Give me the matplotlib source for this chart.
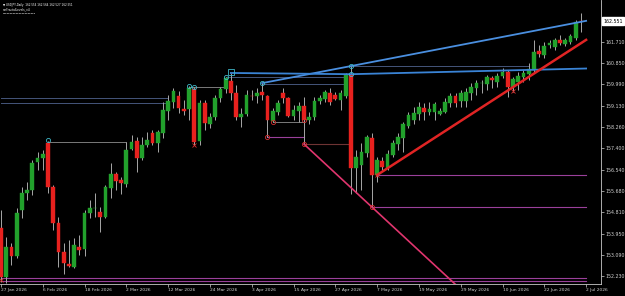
import matplotlib
matplotlib.use("Agg")
import matplotlib.pyplot as plt
import numpy as np

# USDJPY daily candles from 27 Jan 2026
opens = [154.17, 152.19, 153.40, 153.04, 154.90, 155.59, 155.71, 156.85, 157.01, 157.61,
         155.83, 154.38, 153.20, 152.72, 152.59, 153.40, 153.32, 154.78, 154.98, 154.82,
         154.62, 155.79, 156.36, 156.12, 155.95, 157.37, 157.70, 157.01, 157.53, 158.02,
         157.61, 158.02, 158.91, 159.27, 159.52, 158.99, 158.99, 159.80, 157.70, 159.23,
         158.38, 158.67, 159.44, 159.80, 160.12, 159.64, 158.67, 158.79, 159.52, 159.52,
         159.68, 159.52, 158.51, 158.87, 159.64, 159.44, 158.71, 158.91, 159.11, 158.55,
         158.67, 159.32, 159.40, 159.64, 159.56, 159.36, 159.52, 160.37, 156.60, 156.72,
         157.21, 157.82, 156.32, 156.89, 156.60, 157.13, 157.57, 157.82, 158.30, 158.55,
         158.79, 159.03, 158.87, 158.87, 158.79, 158.87, 159.23, 159.52, 159.32, 159.32,
         159.64, 159.84, 160.04, 160.00, 160.25, 160.08, 160.33, 160.49, 159.88, 160.08,
         160.29, 160.41, 160.57, 161.34, 161.18, 161.58, 161.50, 161.78, 161.62, 161.70,
         161.87, 162.554]
highs = [154.90, 153.81, 153.57, 154.98, 155.83, 156.04, 156.93, 157.25, 157.33, 157.70,
         155.91, 154.62, 153.57, 153.69, 153.77, 153.89, 154.90, 155.31, 155.59, 155.02,
         155.91, 156.80, 156.44, 156.24, 157.66, 157.94, 157.86, 157.86, 158.06, 158.14,
         158.14, 159.27, 159.56, 159.84, 159.72, 159.36, 159.92, 159.88, 159.36, 159.36,
         158.83, 159.56, 159.88, 160.29, 160.45, 159.96, 159.03, 159.76, 159.76, 159.84,
         160.04, 159.56, 159.03, 159.36, 159.84, 159.48, 159.15, 159.27, 159.48, 158.87,
         159.48, 159.56, 159.76, 159.84, 159.68, 159.76, 160.45, 160.73, 157.33, 157.61,
         157.94, 158.02, 157.05, 157.05, 157.33, 157.74, 158.02, 158.47, 158.87, 159.07,
         159.27, 159.23, 159.27, 159.27, 159.03, 159.44, 159.64, 159.64, 159.76, 159.84,
         160.04, 160.17, 160.17, 160.37, 160.33, 160.45, 160.65, 160.57, 160.29, 160.49,
         160.57, 160.85, 161.78, 161.58, 161.70, 161.78, 161.87, 161.99, 161.87, 162.03,
         162.59, 162.88]
lows = [151.99, 151.95, 152.68, 152.96, 154.58, 155.31, 155.51, 156.52, 156.52, 155.59,
        154.09, 152.59, 152.31, 152.59, 152.55, 153.08, 153.04, 154.58, 154.62, 154.01,
        154.58, 155.39, 155.71, 155.55, 155.83, 157.33, 156.44, 156.93, 157.45, 157.53,
        157.25, 157.82, 158.55, 159.03, 158.83, 158.75, 158.55, 157.53, 157.53, 158.14,
        158.22, 158.55, 159.27, 159.64, 159.36, 158.55, 158.26, 158.71, 159.36, 159.23,
        159.36, 157.86, 158.47, 158.75, 159.23, 158.67, 158.55, 158.47, 157.57, 158.38,
        158.55, 159.19, 159.27, 159.15, 159.36, 158.95, 159.44, 155.55, 155.59, 155.71,
        157.05, 155.02, 156.04, 156.52, 156.52, 157.05, 157.33, 157.25, 158.22, 158.38,
        158.55, 158.55, 158.75, 158.55, 158.75, 158.83, 159.07, 159.07, 159.07, 159.07,
        159.36, 159.56, 159.64, 159.76, 159.84, 159.88, 160.25, 159.48, 159.68, 159.76,
        160.08, 160.17, 160.49, 161.10, 161.06, 161.46, 161.38, 161.58, 161.54, 161.62,
        161.78, 162.11]
closes = [152.19, 153.40, 153.04, 154.78, 155.59, 155.71, 156.80, 157.01, 157.17, 155.83,
          154.38, 153.20, 152.76, 152.63, 153.49, 153.28, 154.78, 154.98, 154.99, 154.62,
          155.83, 156.36, 156.08, 155.99, 157.33, 157.66, 157.01, 157.53, 157.74, 157.61,
          158.06, 158.95, 159.32, 159.72, 159.03, 158.91, 159.84, 157.66, 159.23, 158.42,
          158.67, 159.44, 159.80, 160.25, 159.64, 158.67, 158.79, 159.56, 159.50, 159.64,
          159.56, 158.55, 158.91, 159.23, 159.44, 158.71, 158.95, 159.11, 158.55, 158.67,
          159.32, 159.44, 159.68, 159.27, 159.40, 159.64, 160.37, 156.60, 157.05, 157.25,
          157.86, 156.32, 156.93, 156.64, 157.17, 157.61, 157.86, 158.38, 158.75, 158.83,
          159.07, 158.87, 158.99, 159.19, 158.91, 159.27, 159.52, 159.23, 159.64, 159.68,
          159.88, 160.04, 160.05, 160.29, 160.17, 160.33, 160.49, 159.88, 160.21, 160.33,
          160.45, 160.61, 161.30, 161.22, 161.54, 161.66, 161.78, 161.66, 161.78, 161.95,
          162.51, 162.551]

price_ticks = [152.230, 153.090, 153.950, 154.810, 155.680, 156.540, 157.400,
               158.260, 159.130, 159.990, 160.850, 161.710]
date_labels = ["27 Jan 2026", "6 Feb 2026", "18 Feb 2026", "2 Mar 2026", "12 Mar 2026",
               "24 Mar 2026", "3 Apr 2026", "15 Apr 2026", "27 Apr 2026", "7 May 2026",
               "19 May 2026", "29 May 2026", "10 Jun 2026", "22 Jun 2026", "2 Jul 2026"]
last_price = 162.551

# fractal levels: from bar, to bar, price
res_levels = [(0, 32, 159.44), (0, 32, 159.23), (9, 24, 157.66), (36, 43, 159.87),
              (43, 66, 160.27), (50, 66, 160.02), (67, 101, 160.73), (52, 58, 158.47)]
sup_levels = [(51, 58, 157.86), (58, 67, 157.57), (72, 112, 156.32), (71, 112, 155.02),
              (0, 112, 152.15), (0, 112, 152.03)]
# trend lines: (bar, price) anchors
blue_up = [(50, 160.04), (67, 160.73), (112, 162.56)]
blue_flat = [(44, 160.45), (67, 160.40), (112, 160.63)]
red_trend = [(72, 156.32), (112, 161.79)]
pink_trend = [(58, 157.57), (71, 155.02), (90, 151.30)]
high_marks = [(9, 157.72), (36, 159.92), (37, 159.88), (43, 160.29), (50, 160.04),
              (67, 160.73), (67, 160.39)]
low_marks = [(51, 157.86), (52, 158.47), (58, 158.55), (58, 157.57), (71, 155.02)]
low_crosses = [(37, 157.55), (72, 156.32), (98, 159.70), (0, 152.08)]

bg = "black"
fig = plt.figure(figsize=(6.25, 2.96), dpi=100, facecolor=bg)
ax = fig.add_axes([0.0, 12 / 296, 601 / 625, 284 / 296], facecolor=bg)

o = np.array(opens); h = np.array(highs); l = np.array(lows); c = np.array(closes)
idx = np.arange(len(o))

# levels
for a, b, p in res_levels:
    col = "#7a7a7a" if a in (9, 36, 52) else "#45557a"
    ax.plot([a, b], [p, p], color=col, lw=0.7, zorder=1)
for a, b, p in sup_levels:
    col = "#6e3434" if a == 58 else "#9a409a"
    ax.plot([a, b], [p, p], color=col, lw=0.8, zorder=1)

# candles
ax.vlines(idx, l, h, color="#a8a8a8", lw=0.7, zorder=2)
up = c >= o
body_col = np.where(up, "#22a12c", "#e8211e")
bottom = np.minimum(o, c)
height = np.maximum(np.abs(c - o), 0.02)
ax.bar(idx, height, bottom=bottom, width=0.72, color=body_col, edgecolor=body_col,
       lw=0.3, zorder=3)

# trend lines
def line(pts, **kw):
    xs, ys = zip(*pts)
    ax.plot(xs, ys, **kw)

line(blue_up, color="#4a8fe0", lw=1.3, zorder=4)
line(blue_flat, color="#3a84d6", lw=1.3, zorder=4)
line(red_trend, color="#e02424", lw=1.8, zorder=4)
line(pink_trend, color="#e0356e", lw=1.2, zorder=4)

for b, p in high_marks:
    ax.plot(b, p, "o", ms=3, mfc="none", mec="#3fb8c8", mew=0.6, zorder=5)
ax.plot(44, 160.50, "s", ms=4, mfc="none", mec="#3fb8c8", mew=0.6, zorder=5)
for b, p in low_marks:
    ax.plot(b, p, "o", ms=3, mfc="none", mec="#d83030", mew=0.6, zorder=5)
for b, p in low_crosses:
    ax.plot(b, p, "x", ms=3, mec="#e03030", mew=0.6, zorder=5)

ax.set_xlim(-0.19, 114.85)
ax.set_ylim(151.906, 163.404)

for s in ("left", "top"):
    ax.spines[s].set_visible(False)
for s in ("right", "bottom"):
    ax.spines[s].set_color("#c8c8c8")
    ax.spines[s].set_linewidth(0.6)

ax.yaxis.tick_right()
ax.set_yticks(price_ticks)
ax.set_yticklabels(["%.3f" % v for v in price_ticks])
ax.set_xticks(np.arange(0, 8 * len(date_labels), 8))
ax.set_xticklabels(date_labels, ha="left")
ax.tick_params(axis="y", colors="#d0d0d0", labelsize=3.4, length=2, width=0.5, pad=1.5)
ax.tick_params(axis="x", colors="#d0d0d0", labelsize=3.2, length=2, width=0.5, pad=1)

ax.text(1.004, last_price, "%.3f" % last_price, transform=ax.get_yaxis_transform(),
        fontsize=3.4, color="black", va="center", ha="left",
        bbox=dict(boxstyle="square,pad=0.25", fc="white", ec="white"))

fig.text(3 / 625, 1 - 5 / 296, "\u25bc USDJPY,Daily  162.554 162.564 162.527 162.551",
         color="white", fontsize=2.0, va="center", ha="left")
fig.text(3 / 625, 1 - 9.5 / 296, "smFractalLevels_v4", color="white", fontsize=2.1,
         va="center", ha="left")
fig.text(3 / 625, 1 - 13 / 296, "\u25aa" * 22, color="#909090", fontsize=1.6,
         va="center", ha="left")

fig.savefig("out.png", dpi=100, facecolor=bg)
